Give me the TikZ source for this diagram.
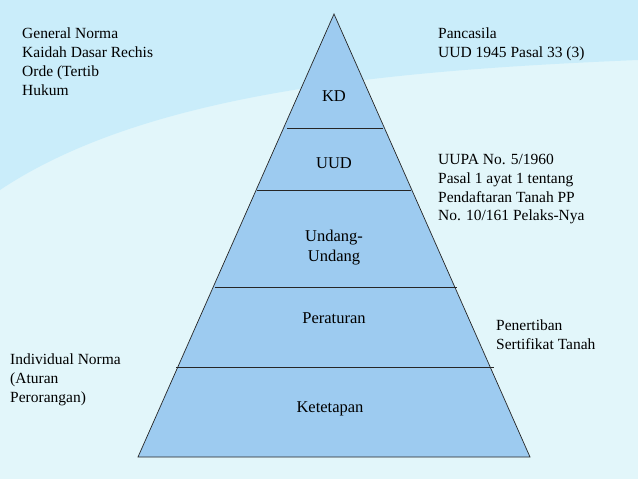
\documentclass[tikz,border=0pt]{standalone}
\usepackage{fontspec}
\setmainfont{Liberation Serif}
\definecolor{bg}{HTML}{E2F6FA}
\definecolor{pyr}{HTML}{9DCBF0}
\begin{document}
\begin{tikzpicture}[x=1pt,y=-1pt,
  lbl/.style={font=\fontsize{15.5}{18.8}\selectfont,align=left,anchor=north west,inner sep=0pt},
  tier/.style={font=\fontsize{16.5}{20}\selectfont,align=center,inner sep=0pt},
  div/.style={draw=black!85,line width=0.7pt}]
\fill[bg] (0,0) rectangle (638,479);
\useasboundingbox (0,0) rectangle (638,479);
\fill[cyan!30,opacity=0.5] (0,0) -- (638,0) -- (638,60) .. controls (400,70) and (150,90) .. (0,190) -- cycle;
\fill[bg] (0,210) .. controls (150,100) and (400,80) .. (638,80) -- (638,479) -- (0,479) -- cycle;
\coordinate (A) at (334,14);
\coordinate (L) at (138,457);
\coordinate (R) at (530,457);
\draw[fill=pyr,draw=black!85,line width=0.7pt] (A) -- (L) -- (R) -- cycle;
\coordinate (l1) at (287,128); \coordinate (r1) at (383,128);
\coordinate (l2) at (257,190); \coordinate (r2) at (411,190);
\coordinate (l3) at (215,287); \coordinate (r3) at (457,287);
\coordinate (l4) at (176,367); \coordinate (r4) at (494,367);
\draw[div] (l1) -- (r1); \draw[div] (l2) -- (r2); \draw[div] (l3) -- (r3); \draw[div] (l4) -- (r4);
\node[tier] (kd) at (334,96) {KD};
\node[tier] (uud) at (334,163) {UUD};
\node[tier] (uu) at (334,248) {Undang-\\Undang};
\node[tier] (per) at (334,318) {Peraturan};
\node[tier] (ket) at (330,409) {Ketetapan};
\node[lbl] (t1) at (22,28) {General Norma\\Kaidah Dasar Rechis\\Orde (Tertib\\Hukum};
\node[lbl] (t2) at (438,28) {Pancasila\\UUD 1945 Pasal 33 (3)};
\node[lbl] (t3) at (438,154) {UUPA No. 5/1960\\Pasal 1 ayat 1 tentang\\Pendaftaran Tanah PP\\No. 10/161 Pelaks-Nya};
\node[lbl] (t4) at (496,320) {Penertiban\\Sertifikat Tanah};
\node[lbl] (t5) at (10,354) {Individual Norma\\(Aturan\\Perorangan)};
\end{tikzpicture}
\end{document}
